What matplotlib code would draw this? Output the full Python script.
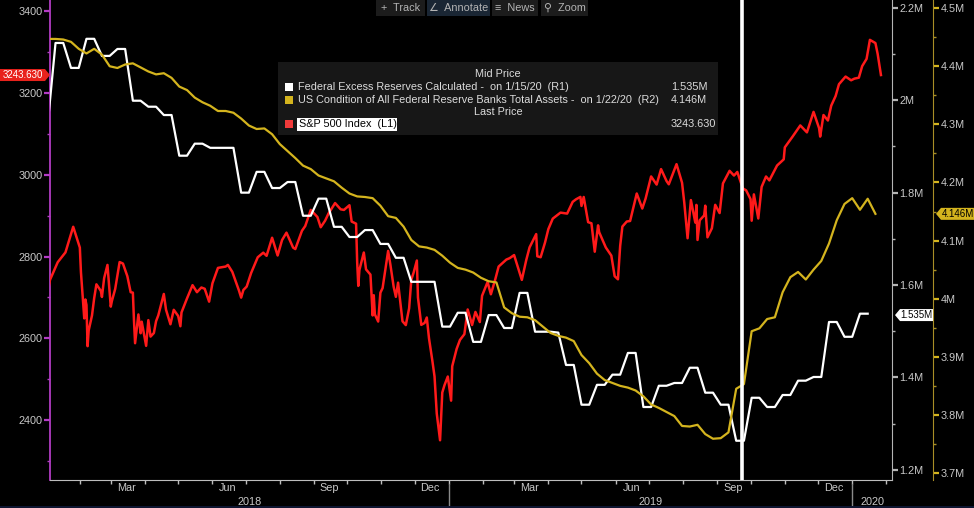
import matplotlib
matplotlib.use("Agg")
import matplotlib.pyplot as plt
import matplotlib.dates as mdates
import pandas as pd
from matplotlib import ticker
from matplotlib.patches import Rectangle, Polygon
from matplotlib.transforms import IdentityTransform, blended_transform_factory

plt.rcParams['font.family'] = ['Liberation Sans', 'DejaVu Sans']

# S&P 500 Index (L1), daily closes sampled
sp_dates = [
    "2018-01-02", "2018-01-05", "2018-01-12", "2018-01-19", "2018-01-26", "2018-02-01", "2018-02-02",
    "2018-02-05", "2018-02-06", "2018-02-07", "2018-02-08", "2018-02-09", "2018-02-12", "2018-02-14",
    "2018-02-16", "2018-02-20", "2018-02-21", "2018-02-23", "2018-02-26", "2018-02-28", "2018-03-01",
    "2018-03-02", "2018-03-05", "2018-03-09", "2018-03-12", "2018-03-16", "2018-03-19", "2018-03-21",
    "2018-03-22", "2018-03-23", "2018-03-26", "2018-03-28", "2018-03-29", "2018-04-02", "2018-04-03",
    "2018-04-04", "2018-04-06", "2018-04-09", "2018-04-11", "2018-04-13", "2018-04-18", "2018-04-20",
    "2018-04-24", "2018-04-27", "2018-05-01", "2018-05-03", "2018-05-04", "2018-05-09", "2018-05-14",
    "2018-05-18", "2018-05-22", "2018-05-25", "2018-05-29", "2018-06-01", "2018-06-06", "2018-06-13",
    "2018-06-15", "2018-06-19", "2018-06-25", "2018-06-27", "2018-06-29", "2018-07-02", "2018-07-06",
    "2018-07-12", "2018-07-17", "2018-07-20", "2018-07-25", "2018-07-30", "2018-08-03", "2018-08-07",
    "2018-08-13", "2018-08-15", "2018-08-21", "2018-08-24", "2018-08-29", "2018-09-04", "2018-09-07",
    "2018-09-11", "2018-09-14", "2018-09-20", "2018-09-25", "2018-09-28", "2018-10-03", "2018-10-05",
    "2018-10-09", "2018-10-10", "2018-10-11", "2018-10-12", "2018-10-16", "2018-10-18", "2018-10-22",
    "2018-10-24", "2018-10-25", "2018-10-26", "2018-10-29", "2018-10-31", "2018-11-02", "2018-11-07",
    "2018-11-09", "2018-11-12", "2018-11-14", "2018-11-16", "2018-11-20", "2018-11-23", "2018-11-26",
    "2018-11-28", "2018-11-30", "2018-12-03", "2018-12-04", "2018-12-07", "2018-12-10", "2018-12-12",
    "2018-12-14", "2018-12-17", "2018-12-19", "2018-12-21", "2018-12-24", "2018-12-26", "2018-12-28",
    "2018-12-31", "2019-01-03", "2019-01-04", "2019-01-08", "2019-01-11", "2019-01-15", "2019-01-18",
    "2019-01-22", "2019-01-25", "2019-01-29", "2019-01-31", "2019-02-05", "2019-02-08", "2019-02-12",
    "2019-02-15", "2019-02-22", "2019-02-25", "2019-03-01", "2019-03-08", "2019-03-12", "2019-03-15",
    "2019-03-21", "2019-03-22", "2019-03-25", "2019-03-29", "2019-04-01", "2019-04-05", "2019-04-12",
    "2019-04-18", "2019-04-23", "2019-04-26", "2019-04-30", "2019-05-01", "2019-05-03", "2019-05-07",
    "2019-05-10", "2019-05-13", "2019-05-16", "2019-05-17", "2019-05-23", "2019-05-28", "2019-05-31",
    "2019-06-03", "2019-06-05", "2019-06-07", "2019-06-11", "2019-06-14", "2019-06-20", "2019-06-25",
    "2019-06-28", "2019-07-03", "2019-07-08", "2019-07-12", "2019-07-17", "2019-07-19", "2019-07-26",
    "2019-07-31", "2019-08-02", "2019-08-05", "2019-08-08", "2019-08-12", "2019-08-13", "2019-08-14",
    "2019-08-16", "2019-08-20", "2019-08-21", "2019-08-23", "2019-08-27", "2019-08-30", "2019-09-03",
    "2019-09-06", "2019-09-12", "2019-09-16", "2019-09-19", "2019-09-24", "2019-09-27", "2019-10-01",
    "2019-10-02", "2019-10-04", "2019-10-08", "2019-10-11", "2019-10-15", "2019-10-18", "2019-10-25",
    "2019-10-31", "2019-11-01", "2019-11-08", "2019-11-15", "2019-11-21", "2019-11-27", "2019-12-02",
    "2019-12-03", "2019-12-06", "2019-12-10", "2019-12-13", "2019-12-17", "2019-12-20", "2019-12-26",
    "2019-12-31", "2020-01-03", "2020-01-07", "2020-01-10", "2020-01-14", "2020-01-17", "2020-01-22",
    "2020-01-24", "2020-01-27",
]
sp_close = [
    2695.81, 2743.15, 2786.24, 2810.30, 2872.87, 2821.98, 2762.13,
    2648.94, 2695.14, 2681.66, 2581.00, 2619.55, 2656.00, 2698.63,
    2732.22, 2716.26, 2701.33, 2747.30, 2779.60, 2713.83, 2677.67,
    2691.25, 2720.94, 2786.57, 2783.02, 2752.01, 2712.92, 2711.93,
    2643.69, 2588.26, 2658.55, 2612.62, 2640.87, 2581.88, 2614.45,
    2644.69, 2604.47, 2613.16, 2642.19, 2656.30, 2708.64, 2670.14,
    2634.56, 2669.91, 2654.80, 2629.73, 2663.42, 2697.79, 2730.13,
    2712.97, 2724.44, 2721.33, 2689.86, 2734.62, 2772.35, 2775.63,
    2779.66, 2762.59, 2717.07, 2699.63, 2718.37, 2726.71, 2759.82,
    2798.29, 2809.55, 2801.83, 2846.07, 2802.60, 2840.35, 2858.45,
    2821.93, 2818.37, 2862.96, 2874.69, 2914.04, 2896.72, 2871.68,
    2887.89, 2904.98, 2930.75, 2915.56, 2913.98, 2925.51, 2885.57,
    2880.34, 2785.68, 2728.37, 2767.13, 2809.92, 2768.78, 2755.88,
    2656.10, 2705.57, 2658.69, 2641.25, 2711.74, 2723.06, 2813.89,
    2781.01, 2726.22, 2701.58, 2736.27, 2641.89, 2632.56, 2673.45,
    2743.79, 2760.17, 2790.37, 2700.06, 2633.08, 2637.72, 2651.07,
    2599.95, 2545.94, 2506.96, 2416.62, 2351.10, 2467.70, 2485.74,
    2506.85, 2447.89, 2531.94, 2574.41, 2596.26, 2610.30, 2670.71,
    2632.90, 2664.76, 2640.00, 2704.10, 2737.70, 2707.88, 2744.73,
    2775.60, 2792.67, 2796.11, 2803.69, 2743.07, 2791.52, 2822.48,
    2854.88, 2800.71, 2798.36, 2834.40, 2867.19, 2892.74, 2907.41,
    2905.03, 2933.68, 2939.88, 2945.83, 2923.73, 2945.64, 2884.05,
    2881.40, 2811.87, 2876.32, 2859.53, 2822.24, 2802.39, 2752.06,
    2744.45, 2826.15, 2873.34, 2885.72, 2886.98, 2954.18, 2917.38,
    2941.76, 2995.82, 2975.95, 3013.77, 2984.42, 2976.61, 3025.86,
    2980.38, 2932.05, 2844.74, 2938.09, 2883.09, 2926.32, 2840.60,
    2888.68, 2900.51, 2924.43, 2847.11, 2869.16, 2926.46, 2906.27,
    2978.71, 3009.57, 2997.96, 3006.79, 2966.60, 2961.79, 2940.25,
    2887.61, 2952.01, 2893.06, 2970.27, 2995.68, 2986.20, 3022.55,
    3037.56, 3066.91, 3093.08, 3120.46, 3103.54, 3153.63, 3113.87,
    3093.20, 3145.91, 3132.52, 3168.80, 3192.52, 3221.22, 3239.91,
    3230.78, 3234.85, 3237.18, 3265.35, 3283.15, 3329.62, 3321.75,
    3295.47, 3243.63,
]

# Federal Excess Reserves Calculated (R1), weekly Wednesdays from 2018-01-03
excess_start = "2018-01-03"
excess = [
    1.950, 2.124, 2.124, 2.070, 2.070, 2.133, 2.133, 2.096, 2.096, 2.111,
    2.111, 1.999, 1.999, 1.986, 1.986, 1.968, 1.968, 1.880, 1.880, 1.906,
    1.906, 1.897, 1.897, 1.897, 1.897, 1.800, 1.800, 1.845, 1.845, 1.810,
    1.810, 1.823, 1.823, 1.750, 1.750, 1.787, 1.787, 1.726, 1.726, 1.704,
    1.704, 1.719, 1.719, 1.689, 1.689, 1.659, 1.659, 1.607, 1.607, 1.607,
    1.607, 1.510, 1.510, 1.540, 1.540, 1.477, 1.477, 1.535, 1.535, 1.507,
    1.507, 1.583, 1.583, 1.499, 1.499, 1.499, 1.497, 1.427, 1.427, 1.341,
    1.341, 1.384, 1.384, 1.406, 1.406, 1.453, 1.453, 1.336, 1.336, 1.382,
    1.382, 1.388, 1.388, 1.421, 1.421, 1.367, 1.367, 1.341, 1.341, 1.263,
    1.263, 1.356, 1.356, 1.336, 1.336, 1.362, 1.362, 1.393, 1.393, 1.401,
    1.401, 1.520, 1.520, 1.488, 1.488, 1.538, 1.538,
]

# US Condition of All Federal Reserve Banks Total Assets (R2), weekly from 2018-01-03
assets_start = "2018-01-03"
assets = [
    4.447, 4.447, 4.446, 4.442, 4.430, 4.422, 4.430, 4.420, 4.400, 4.397,
    4.403, 4.405, 4.398, 4.391, 4.386, 4.388, 4.380, 4.365, 4.359, 4.346,
    4.338, 4.332, 4.323, 4.323, 4.320, 4.310, 4.298, 4.292, 4.293, 4.283,
    4.266, 4.254, 4.242, 4.229, 4.223, 4.212, 4.207, 4.202, 4.191, 4.181,
    4.176, 4.175, 4.173, 4.160, 4.142, 4.139, 4.124, 4.101, 4.090, 4.088,
    4.084, 4.074, 4.062, 4.053, 4.050, 4.045, 4.036, 4.030, 4.028, 3.985,
    3.975, 3.969, 3.968, 3.963, 3.952, 3.941, 3.936, 3.933, 3.927, 3.903,
    3.889, 3.871, 3.860, 3.855, 3.850, 3.847, 3.842, 3.832, 3.818, 3.812,
    3.805, 3.798, 3.781, 3.780, 3.783, 3.767, 3.759, 3.760, 3.770, 3.845,
    3.853, 3.944, 3.949, 3.965, 3.968, 4.011, 4.037, 4.046, 4.033, 4.050,
    4.065, 4.095, 4.135, 4.163, 4.173, 4.153, 4.172, 4.146,
]

marker_date = "2019-09-23"
sp_last = 3243.63
excess_last = 1.535
assets_last = 4.146

W, H = 974, 508
GRAY = '#c8c8c8'
MAGENTA = '#b23cc4'
YELLOW = '#d4b41e'
FS = 7.8

sp_x = pd.to_datetime(sp_dates)
ex_x = pd.date_range(excess_start, periods=len(excess), freq='7D')
as_x = pd.date_range(assets_start, periods=len(assets), freq='7D')

fig = plt.figure(figsize=(W / 100, H / 100), dpi=100, facecolor='black')
ax = fig.add_axes([50 / W, 28 / H, 842 / W, 480 / H])
ax.set_facecolor('black')
ax1 = ax.twinx()
ax2 = ax.twinx()

ax.plot(sp_x, sp_close, color='#ff1a1a', lw=1.8, zorder=3)
ax1.plot(ex_x, excess, color='white', lw=1.6)
ax2.plot(as_x, assets, color=YELLOW, lw=1.6)
ax2.axvline(pd.Timestamp(marker_date), color='white', lw=2.6, zorder=5)

ax.set_xlim(pd.Timestamp('2018-01-05'), pd.Timestamp('2020-02-06'))
ax.set_ylim(2254, 3427)
ax1.set_ylim(1.178, 2.217)
ax2.set_ylim(3.688, 4.514)

# left axis (L1)
for s in ['top', 'right']:
    ax.spines[s].set_visible(False)
ax.spines['left'].set_color(MAGENTA)
ax.spines['left'].set_linewidth(1.3)
ax.spines['bottom'].set_color('#bdbdbd')
ax.yaxis.set_major_locator(ticker.MultipleLocator(200))
ax.yaxis.set_minor_locator(ticker.MultipleLocator(100))
ax.tick_params(axis='y', which='major', colors=MAGENTA, labelcolor=GRAY, length=4, width=1.6, pad=1.5, labelsize=FS)
ax.tick_params(axis='y', which='minor', colors=MAGENTA, length=2, width=1)

# x axis: month ticks, quarter labels centred in month
ax.xaxis.set_major_locator(mdates.MonthLocator())
ax.xaxis.set_major_formatter(ticker.NullFormatter())
ax.xaxis.set_minor_locator(mdates.MonthLocator(bymonth=[3, 6, 9, 12], bymonthday=15))
ax.xaxis.set_minor_formatter(mdates.DateFormatter('%b'))
ax.tick_params(axis='x', which='major', colors='#bdbdbd', length=3, width=1)
ax.tick_params(axis='x', which='minor', length=0, labelcolor=GRAY, labelsize=FS, pad=2.5)

trans = blended_transform_factory(ax.transData, ax.transAxes)
x0, x1 = ax.get_xlim()
y2019 = mdates.date2num(pd.Timestamp('2019-01-01'))
y2020 = mdates.date2num(pd.Timestamp('2020-01-01'))
for xc, lab in [((x0 + y2019) / 2, '2018'), ((y2019 + y2020) / 2, '2019'), ((y2020 + x1) / 2, '2020')]:
    ax.text(xc, -0.045, lab, transform=trans, ha='center', va='center', color=GRAY, fontsize=FS)
for xs in [y2019, y2020]:
    ax.plot([xs, xs], [-0.008, -0.06], transform=trans, color='#8a8a8a', lw=1, clip_on=False)

# right axes R1 and R2
for s in ['top', 'bottom', 'left']:
    ax1.spines[s].set_visible(False)
    ax2.spines[s].set_visible(False)
ax1.spines['right'].set_color('#b4b4b4')
ax1.yaxis.set_major_locator(ticker.MultipleLocator(0.2))
ax1.yaxis.set_minor_locator(ticker.MultipleLocator(0.1))
ax1.yaxis.set_major_formatter(ticker.FuncFormatter(lambda v, p: f'{v:g}M'))
ax1.tick_params(axis='y', which='major', colors='#b4b4b4', labelcolor=GRAY, length=4, width=1.6, pad=1.5, labelsize=FS)
ax1.tick_params(axis='y', which='minor', colors='#b4b4b4', length=2, width=1)

ax2.spines['right'].set_position(('axes', 883 / 842))
ax2.spines['right'].set_color('#a88e26')
ax2.yaxis.set_major_locator(ticker.MultipleLocator(0.1))
ax2.yaxis.set_minor_locator(ticker.MultipleLocator(0.05))
ax2.yaxis.set_major_formatter(ticker.FuncFormatter(lambda v, p: f'{v:g}M'))
ax2.tick_params(axis='y', which='major', colors=YELLOW, labelcolor=GRAY, length=4, width=1.6, pad=1.5, labelsize=FS)
ax2.tick_params(axis='y', which='minor', colors='#a88e26', length=2, width=1)


def px(x, y):
    return x / W, 1 - y / H


def tag(axis, value, xl, xr, tip, label, fc, tc):
    yd = axis.transData.transform((0, value))[1]
    h = 6
    if tip == 'right':
        pts = [(xl, yd - h), (xr - 5, yd - h), (xr, yd), (xr - 5, yd + h), (xl, yd + h)]
        tx = (xl + xr - 5) / 2
    else:
        pts = [(xl, yd), (xl + 5, yd + h), (xr, yd + h), (xr, yd - h), (xl + 5, yd - h)]
        tx = (xl + 5 + xr) / 2
    fig.add_artist(Polygon(pts, closed=True, transform=IdentityTransform(), fc=fc, ec='none', zorder=6))
    fig.text(tx / W, yd / H, label, ha='center', va='center', color=tc, fontsize=7, zorder=7)


tag(ax, sp_last, 0, 50, 'right', f'{sp_last:.3f}', '#e8221c', 'white')
tag(ax1, excess_last, 895, 933, 'left', f'{excess_last:.3f}M', 'white', 'black')
tag(ax2, assets_last, 936, 974, 'left', f'{assets_last:.3f}M', YELLOW, 'black')

# legend panel
fig.add_artist(Rectangle(px(278, 135), 440 / W, 73 / H, transform=fig.transFigure, fc='#171717', ec='none', zorder=4))
LT = '#dcdcdc'
fig.text(*px(498, 74), 'Mid Price', ha='center', va='center', color=LT, fontsize=FS, zorder=7)
fig.text(*px(498, 112), 'Last Price', ha='center', va='center', color=LT, fontsize=FS, zorder=7)
rows = [
    (87, 'white', 'Federal Excess Reserves Calculated -  on 1/15/20  (R1)', f'{excess_last:.3f}M'),
    (100, YELLOW, 'US Condition of All Federal Reserve Banks Total Assets -  on 1/22/20  (R2)', f'{assets_last:.3f}M'),
    (124, '#f03a3a', 'S&P 500 Index  (L1)', f'{sp_last:.3f}'),
]
for yy, c, name, val in rows:
    fig.add_artist(Rectangle(px(285, yy + 4), 8 / W, 8 / H, transform=fig.transFigure, fc=c, ec='none', zorder=6))
    if name.startswith('S&P'):
        fig.add_artist(Rectangle(px(297, yy + 6.5), 100 / W, 13 / H, transform=fig.transFigure, fc='white', ec='none', zorder=6))
        fig.text(*px(299, yy), name, ha='left', va='center', color='black', fontsize=FS, zorder=7)
    else:
        fig.text(*px(298, yy), name, ha='left', va='center', color=LT, fontsize=FS, zorder=7)
    fig.text(*px(671, yy), val, ha='left', va='center', color=LT, fontsize=FS, zorder=7)

# toolbar
buttons = [(376, 425, '+  Track', '#1c1c1c'), (427, 490, '∠  Annotate', '#1a2634'),
           (492, 538, '≡  News', '#1c1c1c'), (541, 588, '⚲  Zoom', '#1c1c1c')]
for bl, br, lab, bc in buttons:
    fig.add_artist(Rectangle(px(bl, 16), (br - bl) / W, 16 / H, transform=fig.transFigure, fc=bc, ec='none', zorder=4))
    fig.text(*px((bl + br) / 2, 8), lab, ha='center', va='center', color='#b4b4b4', fontsize=FS, zorder=7)

fig.add_artist(Rectangle((0, 0), 1, 2 / H, transform=fig.transFigure, fc='#0d1530', ec='none', zorder=4))

fig.savefig('out.png', dpi=100, facecolor='black')
